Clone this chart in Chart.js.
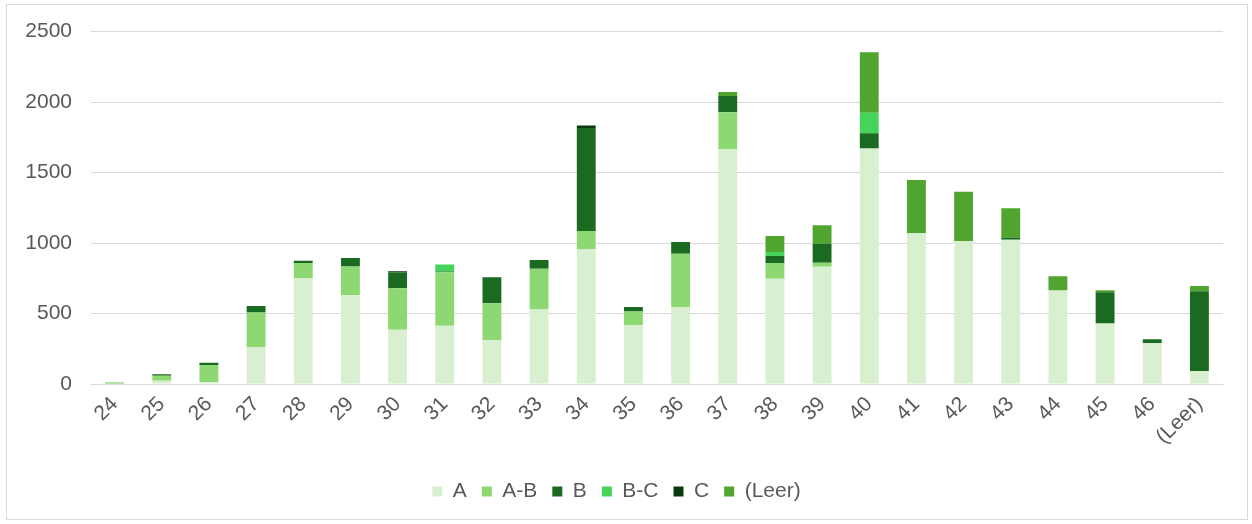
<!DOCTYPE html>
<html>
<head>
<meta charset="utf-8">
<script src="https://cdn.jsdelivr.net/npm/chart.js@4/dist/chart.umd.min.js"></script>
<style>
  html, body { margin: 0; padding: 0; background: #fff; }
  #frame { position: absolute; left: 6px; top: 4px; width: 1240px; height: 514px; border: 1px solid #d9d9d9; }
  #wrap { position: absolute; left: 0; top: 0; width: 1252px; height: 524px; }
</style>
</head>
<body>
<div id="frame"></div>
<div id="wrap"><canvas id="myChart" width="1252" height="524"></canvas></div>
<script>
const categories = ['24', '25', '26', '27', '28', '29', '30', '31', '32', '33', '34', '35',
    '36', '37', '38', '39', '40', '41', '42', '43', '44', '45', '46', '(Leer)'];

const valuesA = [2, 23, 14, 263, 751, 630, 384, 414, 310, 528, 957, 419,
    547, 1668, 746, 832, 1670, 1072, 1015, 1023, 664, 429, 290, 92];
const valuesAB = [6, 35, 121, 244, 107, 204, 296, 379, 263, 289, 128, 95,
    377, 259, 112, 28, 0, 0, 0, 0, 0, 0, 0, 0];
const valuesB = [2, 11, 16, 47, 16, 59, 111, 5, 185, 62, 732, 33,
    83, 117, 50, 135, 109, 0, 0, 16, 0, 222, 28, 566];
const valuesBC = [0, 0, 0, 0, 0, 0, 0, 50, 0, 0, 0, 0,
    0, 0, 28, 0, 145, 0, 0, 0, 0, 0, 0, 0];
const valuesC = [0, 0, 0, 0, 0, 0, 8, 0, 0, 0, 16, 0,
    0, 0, 0, 0, 0, 0, 0, 0, 0, 0, 0, 0];
const valuesLeer = [0, 0, 0, 0, 0, 0, 0, 0, 0, 0, 0, 0,
    0, 27, 114, 131, 429, 375, 349, 207, 100, 14, 0, 38];

const seriesLabels = ['A', 'A-B', 'B', 'B-C', 'C', '(Leer)'];
const seriesColors = ['#d8f0d0', '#8ed874', '#1b6a22', '#45d35a', '#0a3a0e', '#50a52e'];
const seriesValues = [valuesA, valuesAB, valuesB, valuesBC, valuesC, valuesLeer];

const fontFamily = '"Liberation Sans", Arial, Helvetica, sans-serif';
const textColor = '#595959';

const datasets = seriesLabels.map(function (label, i) {
    return {
        label: label,
        data: seriesValues[i],
        backgroundColor: seriesColors[i],
        borderWidth: 0,
        barPercentage: 0.4,
        categoryPercentage: 1.0
    };
});

const config = {
    type: 'bar',
    data: {
        labels: categories,
        datasets: datasets
    },
    options: {
        responsive: false,
        animation: false,
        layout: {
            padding: { left: 10, right: 29, top: 31, bottom: 12 }
        },
        scales: {
            x: {
                stacked: true,
                grid: { display: false, drawTicks: false },
                border: { display: true, color: '#d9d9d9', width: 1 },
                ticks: {
                    minRotation: 45,
                    maxRotation: 45,
                    padding: 8,
                    color: textColor,
                    font: { family: fontFamily, size: 21 }
                },
                afterFit: function (scale) {
                    scale.height = 82;
                }
            },
            y: {
                stacked: true,
                min: 0,
                max: 2500,
                ticks: {
                    stepSize: 500,
                    padding: 19,
                    color: textColor,
                    font: { family: fontFamily, size: 21 },
                    callback: function (value) {
                        return String(value);
                    }
                },
                grid: { color: '#d9d9d9', lineWidth: 1, drawTicks: false },
                border: { display: false },
                afterFit: function (scale) {
                    scale.width = 81;
                }
            }
        },
        plugins: {
            legend: {
                position: 'bottom',
                labels: {
                    boxWidth: 10,
                    boxHeight: 10,
                    padding: 15,
                    color: textColor,
                    font: { family: fontFamily, size: 21 }
                }
            },
            tooltip: { enabled: false }
        }
    }
};

new Chart(document.getElementById('myChart'), config);
</script>
</body>
</html>
